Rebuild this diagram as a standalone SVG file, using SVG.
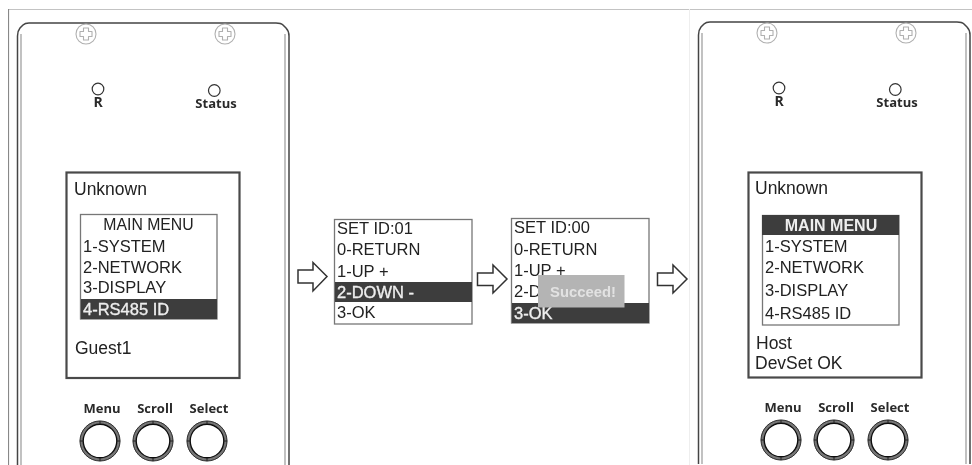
<svg xmlns="http://www.w3.org/2000/svg" width="972" height="465" viewBox="0 0 972 465">
<style>
text{font-family:"Liberation Sans",Arial,sans-serif;fill:#222}
.t{font-size:16.500px}
.b{font-size:17.500px}
.c{text-anchor:middle}
.w{fill:#eee;stroke:#eee;stroke-width:.35px}
.lbl{font-family:"Open Sans","Noto Sans",sans-serif;font-weight:700;font-size:13px;text-anchor:middle;fill:#2a2a2a}
.pl{fill:none;stroke:#444;stroke-width:1.5}
.pl2{fill:none;stroke:#999;stroke-width:1.2}
.screw{fill:#fff;stroke:#b0b0b0;stroke-width:1.1}
.led{fill:#fff;stroke:#333;stroke-width:1.2}
.lcd{fill:#fff;stroke:#4a4a4a;stroke-width:2.2}
.box{fill:#fff;stroke:#777;stroke-width:1.3}
.hl{fill:#3c3c3c}
.ring{fill:none;stroke:#777;stroke-width:3.6}
.ringI{fill:none;stroke:#111;stroke-width:1.4}
.ringO{fill:none;stroke:#333;stroke-width:1}
.arr{fill:#fff;stroke:#333;stroke-width:1.5}
</style>
<defs>
<filter id="soft" x="0" y="0" width="100%" height="100%" filterUnits="objectBoundingBox"><feGaussianBlur stdDeviation="0.4"/></filter>
<g id="screw">
<circle class="screw" r="10"/>
<path class="screw" d="M-2.500,-6h5v3.500h3.500v5h-3.500v3.500h-5v-3.500h-3.500v-5h3.500z" stroke-linejoin="round"/>
</g>
<g id="btn">
<circle class="ring" r="18.500"/>
<circle class="ringI" r="16.800"/>
<circle class="ringO" r="20"/>
<path d="M0,-20v3M0,17v3M-20,0h3M17,0h3" stroke="#222" stroke-width="1" fill="none"/>
</g>
<g id="body">
<path class="pl" d="M17.500,465V36Q17.500,31 20,28L23,25Q25,23 29,23H276Q281,23 283,25L286,28Q289,31 289,36V465"/>
<path class="pl2" d="M21,465V34M285,34V465"/>
<use href="#screw" x="86" y="34"/>
<use href="#screw" x="225" y="34"/>
<circle class="led" cx="98" cy="89" r="5.800"/>
<circle class="led" cx="214.300" cy="90.500" r="5.800"/>
<text class="lbl" x="98" y="107" style="font-size:14px">R</text>
<text class="lbl" x="216" y="108">Status</text>
<text class="lbl" x="102" y="413">Menu</text>
<text class="lbl" x="155" y="413">Scroll</text>
<text class="lbl" x="209" y="413">Select</text>
<use href="#btn" x="100" y="441"/>
<use href="#btn" x="153" y="441"/>
<use href="#btn" x="207" y="441"/>
</g>
</defs>
<rect width="972" height="465" fill="#fff"/>
<g filter="url(#soft)">
<g id="frame">
<path d="M8.500,465V9H972" fill="none" stroke="#888" stroke-width="1.2"/>
<path d="M689.500,9V465" fill="none" stroke="#eee" stroke-width="1"/>
</g>
<g id="panel-left">
<use href="#body"/>
<rect class="lcd" x="66.500" y="172.500" width="173" height="205.500"/>
<text class="b" x="74" y="195">Unknown</text>
<rect class="box" x="80.500" y="214.500" width="136.500" height="104.500"/>
<rect class="hl" x="81" y="299" width="136" height="20"/>
<text class="c" x="148.500" y="230" style="font-size:15.800px">MAIN MENU</text>
<text class="t" x="83" y="252">1-SYSTEM</text>
<text class="t" x="83" y="273">2-NETWORK</text>
<text class="t" x="83" y="293">3-DISPLAY</text>
<text class="t w" x="83" y="315">4-RS485 ID</text>
<text class="b" x="75" y="354">Guest1</text>
</g>
<g id="screen-set-01">
<rect class="box" x="334.500" y="219.500" width="137.500" height="104.500"/>
<rect class="hl" x="335" y="282" width="137" height="20"/>
<text class="t" x="337" y="234">SET ID:01</text>
<text class="t" x="337" y="255">0-RETURN</text>
<text class="t" x="337" y="277">1-UP +</text>
<text class="t w" x="337" y="298">2-DOWN -</text>
<text class="t" x="337" y="318">3-OK</text>
</g>
<g id="screen-set-00">
<rect class="box" x="511.500" y="218.500" width="137.500" height="104.500"/>
<rect class="hl" x="512" y="303" width="137" height="20"/>
<text class="t" x="514" y="233">SET ID:00</text>
<text class="t" x="514" y="255">0-RETURN</text>
<text class="t" x="514" y="276">1-UP +</text>
<text class="t" x="514" y="297">2-D</text>
<text class="t w" x="514" y="319">3-OK</text>
<rect x="538" y="275" width="86.500" height="32.500" fill="#b4b4b4"/>
<text class="c" x="583" y="297" style="font-size:14.800px;font-weight:700;fill:#e2e2e2">Succeed!</text>
</g>
<g id="panel-right">
<use href="#body" x="681" y="-1"/>
<rect class="lcd" x="748.500" y="172.500" width="173" height="205"/>
<text class="b" x="755" y="194">Unknown</text>
<rect class="box" x="762.500" y="215.500" width="136.500" height="109.500"/>
<rect class="hl" x="762" y="215" width="137" height="20"/>
<text class="c" x="831" y="231" style="font-size:16px;font-weight:700;fill:#eee">MAIN MENU</text>
<text class="t" x="765" y="252">1-SYSTEM</text>
<text class="t" x="765" y="273">2-NETWORK</text>
<text class="t" x="765" y="296">3-DISPLAY</text>
<text class="t" x="765" y="319">4-RS485 ID</text>
<text class="b" x="756" y="349">Host</text>
<text class="b" x="755" y="369">DevSet OK</text>
</g>
<g id="connectors">
<path class="arr" d="M298,270H313V262.500L327,276.500L313,291V283H298Z"/>
<path class="arr" d="M477.500,273H493V265L507,279L493,293V285.500H477.500Z"/>
<path class="arr" d="M657.500,273H673V265L687,279L673,293V285.500H657.500Z"/>
</g>
</g>
</svg>
